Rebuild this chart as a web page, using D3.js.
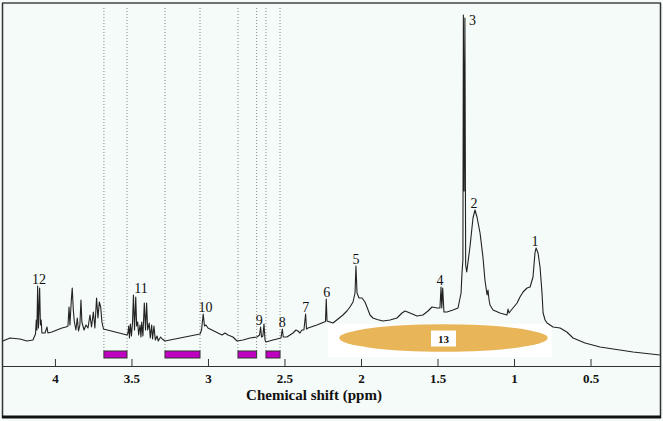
<!DOCTYPE html>
<html><head><meta charset="utf-8">
<script src="https://cdn.jsdelivr.net/npm/d3@7/dist/d3.min.js"></script>
<style>html,body{margin:0;padding:0;background:#f5fbf8;}svg{display:block;}</style>
</head><body>
<svg id="chart" width="663" height="421"></svg>
<script>
// chemical shift (ppm) and intensity (arbitrary units)
const shiftPpm = [4.340,4.294,4.229,4.183,4.144,4.127,4.122,4.118,4.113,4.108,4.100,4.095,4.090,4.085,4.065,4.052,4.046,4.020,3.987,3.954,3.928,3.915,3.908,3.902,3.893,3.887,3.880,3.873,3.863,3.854,3.846,3.837,3.830,3.824,3.810,3.797,3.784,3.771,3.761,3.749,3.739,3.728,3.719,3.710,3.701,3.693,3.683,
3.529,3.523,3.518,3.513,3.507,3.500,3.493,3.487,3.480,3.472,3.466,3.459,3.453,3.444,3.438,3.433,3.425,3.416,3.408,3.401,3.394,3.384,3.377,3.368,3.362,3.353,3.344,3.333,3.325,3.310,3.299,3.281,
3.052,3.042,3.031,3.023,3.013,3.000,2.974,2.935,2.908,2.889,2.869,2.837,2.810,2.771,2.725,2.680,2.663,2.656,2.650,2.641,2.634,2.627,2.621,2.575,2.523,2.514,2.508,2.484,2.444,2.425,2.412,2.399,2.386,2.373,2.362,2.356,2.346,2.288,2.232,2.227,2.222,2.203,2.183,2.150,2.118,2.092,2.072,2.052,2.039,2.033,2.026,2.013,1.993,1.974,1.961,1.941,1.922,1.895,1.856,1.810,1.765,1.732,1.712,1.680,1.634,1.595,1.562,1.536,1.503,1.484,1.477,1.472,1.466,1.458,1.438,1.399,1.366,1.346,1.340,1.334,1.331,1.326,1.321,1.316,1.309,1.288,1.268,1.255,1.242,1.222,1.203,1.190,1.176,1.170,1.163,1.157,1.137,1.092,1.046,1.039,1.033,1.007,0.980,0.961,0.941,0.915,0.895,0.876,0.863,0.856,0.843,0.830,0.817,0.810,0.797,0.784,0.745,0.699,0.655,0.614,0.536,0.438,0.222,0.046];
const intensity = [25,28,27,25,26,32,46,36,80,38,78,41,46,33,33,39,33,34,36,38,39,40,59,41,66,78,56,44,36,48,35,41,66,44,36,41,38,51,39,54,38,68,48,64,59,44,37,
31,33,40,28,42,30,44,71,36,69,40,44,31,41,29,44,30,63,36,63,36,43,28,41,27,40,26,30,25,29,27,25,
32,36,52,40,41,38,36,33,31,33,31,29,25,26,28,29,31,39,29,30,42,26,24,26,28,37,29,29,33,36,35,33,36,36,52,37,38,41,44.5,67,45,44,43,47,51,55,59,64,73,100,73,68,68,64,59,51,48,46.5,45,46,48,53,55,53,50,51,55,59,58,58,79,58,78,54,54,56,58,73,93,106,351,175,348,101,94,119,148,156,149,133,109,86,71,76,66,61,56,53,51,57,53,58,63,69,74,78,79,89,113,118,113,99,73,53,46,43,39,38,34,28,23,19,14,11];

const tickValues = [4,3.5,3,2.5,2,1.5,1,0.5];
const tickLabels = ["4","3.5","3","2.5","2","1.5","1","0.5"];

// integration regions (ppm) shown as magenta bars with dotted guide lines
const regionStart = [3.680,3.281,2.804,2.621];
const regionEnd   = [3.529,3.052,2.682,2.529];

// broad region 13 (ppm)
const broadStart = 2.142, broadEnd = 0.780;

// peak labels
const peakNames = ["12","11","10","9","8","7","6","5","4","3","2","1"];
const labelPpm  = [4.105,3.438,3.016,2.665,2.514,2.361,2.224,2.033,1.484,1.294,1.261,0.863];
const peakPpm   = [4.113,3.487,3.031,2.656,2.514,2.362,2.227,2.033,1.477,1.331,1.255,0.856];

const svg = d3.select("#chart");
const W = 663, H = 421;
const x = d3.scaleLinear().domain([4.346, 0.046]).range([2, 660]);
const y = d3.scaleLinear().domain([0, 351]).range([366, 15]);
const serif = "'Liberation Serif','DejaVu Serif',serif";

svg.append("rect").attr("width", W).attr("height", H).attr("fill", "#f5fbf8");

// dotted guide lines
const edges = regionStart.concat(regionEnd);
svg.append("g").selectAll("line").data(edges).join("line")
  .attr("x1", d => x(d)).attr("x2", d => x(d))
  .attr("y1", 8).attr("y2", 351)
  .attr("stroke", "#888").attr("stroke-width", 1).attr("stroke-dasharray", "1,2");

// white patch + ellipse for broad region 13
svg.append("rect").attr("x", x(broadStart) - 11).attr("y", 324)
  .attr("width", x(broadEnd) - x(broadStart) + 15).attr("height", 33).attr("fill", "#ffffff");
svg.append("ellipse")
  .attr("cx", (x(broadStart) + x(broadEnd)) / 2).attr("cy", 338)
  .attr("rx", (x(broadEnd) - x(broadStart)) / 2).attr("ry", 13.7)
  .attr("fill", "#e8b659");
const cx13 = (x(broadStart) + x(broadEnd)) / 2;
svg.append("rect").attr("x", cx13 - 12.5).attr("y", 330.5).attr("width", 25).attr("height", 16).attr("fill", "#ffffff");
svg.append("text").attr("x", cx13).attr("y", 342.5).attr("text-anchor", "middle")
  .attr("font-family", serif).attr("font-weight", "bold").attr("font-size", 11).attr("fill", "#111").text("13");

// spectrum
const pts = shiftPpm.map((p, i) => [p, intensity[i]]);
const line = d3.line().x(d => x(d[0])).y(d => y(d[1]));
svg.append("path").datum(pts).attr("d", line)
  .attr("fill", "none").attr("stroke", "#222").attr("stroke-width", 1.1).attr("stroke-linejoin", "round");

// magenta bars
svg.append("g").selectAll("rect").data(regionStart).join("rect")
  .attr("x", d => x(d)).attr("y", 351)
  .attr("width", (d, i) => x(regionEnd[i]) - x(d)).attr("height", 7)
  .attr("fill", "#c000c0").attr("stroke", "#333").attr("stroke-width", 1);

// peak labels
function peakVal(p) {
  let best = 0;
  pts.forEach(d => { if (Math.abs(d[0] - p) < 0.004) best = Math.max(best, d[1]); });
  return best;
}
svg.append("g").selectAll("text").data(peakNames).join("text")
  .attr("x", (d, i) => x(labelPpm[i]))
  .attr("y", (d, i) => d === "3" ? y(peakVal(peakPpm[i])) + 10 : y(peakVal(peakPpm[i])) - 2)
  .attr("text-anchor", d => d === "3" ? "start" : "middle")
  .attr("font-family", serif).attr("font-size", 14).attr("fill", "#111")
  .text(d => d);

// x axis
const axis = d3.axisBottom(x).tickValues(tickValues)
  .tickFormat((d, i) => tickLabels[i]).tickSizeInner(-7).tickSizeOuter(0).tickPadding(8);
const ag = svg.append("g").attr("transform", "translate(0,366)").call(axis);
ag.select(".domain").attr("stroke", "#333").attr("stroke-width", 1.2);
ag.selectAll(".tick line").attr("stroke", "#333");
ag.selectAll(".tick text").attr("font-family", serif).attr("font-weight", "bold")
  .attr("font-size", 13).attr("fill", "#111");

svg.append("text").attr("x", 314).attr("y", 400).attr("text-anchor", "middle")
  .attr("font-family", serif).attr("font-weight", "bold").attr("font-size", 15).attr("fill", "#111")
  .text("Chemical shift (ppm)");

// frame
svg.append("line").attr("x1", 2).attr("x2", 661).attr("y1", 3).attr("y2", 3).attr("stroke", "#444").attr("stroke-width", 1.5);
svg.append("line").attr("x1", 2.5).attr("x2", 2.5).attr("y1", 3).attr("y2", 418).attr("stroke", "#333").attr("stroke-width", 1.5);
svg.append("line").attr("x1", 660.5).attr("x2", 660.5).attr("y1", 3).attr("y2", 418).attr("stroke", "#333").attr("stroke-width", 1.5);
svg.append("line").attr("x1", 2).attr("x2", 661).attr("y1", 417).attr("y2", 417).attr("stroke", "#111").attr("stroke-width", 3);
</script>
</body></html>
